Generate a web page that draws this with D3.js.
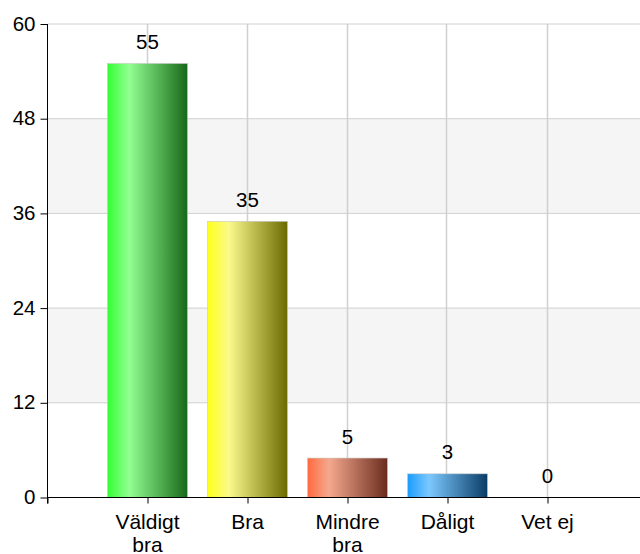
<!DOCTYPE html>
<html>
<head>
<meta charset="utf-8">
<script src="https://cdn.jsdelivr.net/npm/d3@7"></script>
<style>
  body { margin: 0; background: #fff; }
  svg { display: block; font-family: Arial, "Liberation Sans", sans-serif; }
</style>
</head>
<body>
<div id="app"></div>
<script>
const categories = [["Väldigt", "bra"], ["Bra"], ["Mindre", "bra"], ["Dåligt"], ["Vet ej"]];
const values = [55, 35, 5, 3, 0];
const yTicks = [0, 12, 24, 36, 48, 60];
// left, highlight, right of each bar's shading
const barColors = [
  ["#33ff33", "#92ff92", "#186818"],
  ["#ffff1a", "#fafa8c", "#6a6a00"],
  ["#ff6a40", "#f4a88e", "#6a2c1e"],
  ["#1a9cff", "#7cc8ff", "#0a3c66"],
  ["#cccccc", "#eeeeee", "#666666"]
];

const width = 640, height = 554;
const plotLeft = 47.5, plotTop = 24, plotBottom = 497.5;

const svg = d3.select("#app").append("svg")
  .attr("width", width)
  .attr("height", height);

const x = d3.scaleLinear().domain([0, 6]).range([plotLeft, plotLeft + 600]);
const y = d3.scaleLinear().domain([0, 60]).range([plotBottom, plotTop]);

// gradients
const defs = svg.append("defs");
barColors.forEach((c, i) => {
  const g = defs.append("linearGradient")
    .attr("id", "grad" + i)
    .attr("x1", "0%").attr("x2", "100%").attr("y1", "0%").attr("y2", "0%");
  g.append("stop").attr("offset", "0%").attr("stop-color", c[0]);
  g.append("stop").attr("offset", "27%").attr("stop-color", c[1]);
  g.append("stop").attr("offset", "100%").attr("stop-color", c[2]);
});

// alternating bands
const bands = [[12, 24], [36, 48]];
svg.selectAll(".band")
  .data(bands)
  .enter()
  .append("rect")
  .attr("class", "band")
  .attr("x", plotLeft)
  .attr("y", (d) => y(d[1]))
  .attr("width", width - plotLeft)
  .attr("height", (d) => y(d[0]) - y(d[1]))
  .attr("fill", "#f5f5f5");

//horizontal grid
svg.selectAll(".hgrid")
  .data(yTicks.filter((d) => d > 0))
  .enter()
  .append("line")
  .attr("x1", plotLeft)
  .attr("x2", width)
  .attr("y1", (d) => y(d))
  .attr("y2", (d) => y(d))
  .attr("stroke", "#d0d0d0")
  .attr("stroke-width", 1);

//vertical grid
svg.selectAll(".vgrid")
  .data(categories)
  .enter()
  .append("line")
  .attr("x1", (d, i) => Math.round(x(i + 1)) - 0.5)
  .attr("x2", (d, i) => Math.round(x(i + 1)) - 0.5)
  .attr("y1", y(60))
  .attr("y2", plotBottom)
  .attr("stroke", "#d0d0d0")
  .attr("stroke-width", 1.5);

//bars
const barW = 80;
svg.selectAll(".bar")
  .data(values)
  .enter()
  .append("rect")
  .attr("class", "bar")
  .attr("x", (d, i) => x(i + 1) - barW / 2)
  .attr("y", (d) => y(d))
  .attr("width", barW)
  .attr("height", (d) => plotBottom - y(d))
  .attr("fill", (d, i) => "url(#grad" + i + ")")
  .attr("stroke", (d) => (d > 0 ? "#c8c8c8" : "none"))
  .attr("stroke-width", 0.6);

//value labels
svg.selectAll(".val")
  .data(values)
  .enter()
  .append("text")
  .attr("x", (d, i) => x(i + 1))
  .attr("y", (d) => y(d) - 14.5)
  .attr("text-anchor", "middle")
  .attr("font-size", 20.5)
  .attr("fill", "#000")
  .text((d) => d);

//y axis
const yAxis = d3.axisLeft(y).tickValues(yTicks).tickSize(7).tickPadding(5);
const yg = svg.append("g")
  .attr("transform", `translate(${plotLeft},0)`)
  .call(yAxis);
yg.select(".domain").attr("d", `M0,${plotTop}V${plotBottom + 6}`).attr("stroke", "#000");
yg.selectAll(".tick line").attr("stroke", "#000");
yg.selectAll(".tick text")
  .attr("font-size", 20.5)
  .attr("fill", "#000")
  .attr("font-family", "Arial, 'Liberation Sans', sans-serif")
  .attr("dy", "0.3em");

//x axis
const xAxis = d3.axisBottom(x).tickValues([0, 1, 2, 3, 4, 5]).tickSize(6).tickFormat("");
const xg = svg.append("g")
  .attr("transform", `translate(0,${plotBottom})`)
  .call(xAxis);
xg.select(".domain").attr("d", `M${plotLeft},0H${width}`).attr("stroke", "#000");
xg.selectAll(".tick line").attr("stroke", "#000");

//category labels
const catText = svg.selectAll(".cat")
  .data(categories)
  .enter()
  .append("text")
  .attr("class", "cat")
  .attr("text-anchor", "middle")
  .attr("font-size", 21)
  .attr("fill", "#000");
catText.selectAll("tspan")
  .data((d, i) => d.map((t) => ({ t, i })))
  .enter()
  .append("tspan")
  .attr("x", (d) => x(d.i + 1))
  .attr("y", (d, j) => plotBottom + 31.5 + j * 22.5)
  .text((d) => d.t);
</script>
</body>
</html>
